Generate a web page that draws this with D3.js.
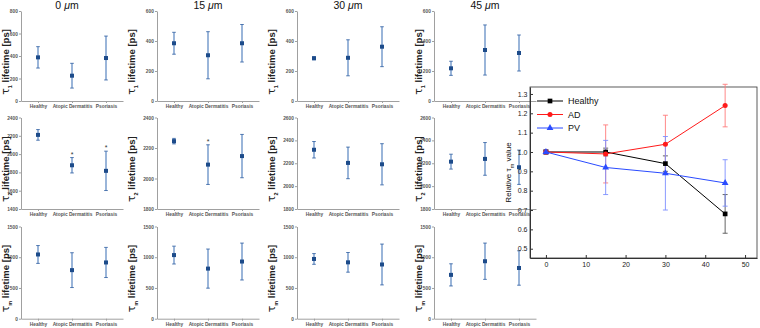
<!DOCTYPE html>
<html>
<head>
<meta charset="utf-8">
<title>Lifetime panels</title>
<script src="https://d3js.org/d3.v7.min.js"></script>
<style>
body { margin: 0; background: #fff; }
svg { display: block; font-family: "Liberation Sans Narrow", "Liberation Sans", Arial, sans-serif; }
.tiny .tick text { font-size: 4.8px; font-weight: bold; fill: #555; }
.tiny path, .tiny line { stroke: #a0a0a0; }
.rel .tick text { font-family: "Liberation Sans", Arial, sans-serif; font-size: 7px; fill: #222; }
.rel path, .rel line { stroke: #333; }
</style>
</head>
<body>
<div id="chart"></div>
<script>
var width = 760, height = 328;

var depths = ["0", "15", "30", "45"];
var groups = ["Healthy", "Atopic Dermatitis", "Psoriasis"];

// tau1 lifetime [ps], one row per depth: Healthy, AD, Psoriasis
var tau1Mean = [[388, 225, 382], [385, 305, 385], [285, 288, 362], [218, 340, 320]];
var tau1Err  = [[95, 110, 195], [73, 157, 125], [10, 120, 133], [47, 167, 120]];
var tau1Max  = [800, 600, 600, 600];

// tau2 lifetime [ps]
var tau2Mean = [[2210, 1878, 1817], [2245, 2091, 2147], [2318, 2203, 2191], [2214, 2238, 2165]];
var tau2Err  = [[58, 84, 215], [18, 130, 142], [72, 138, 180], [65, 143, 150]];
var tau2Min  = [1400, 1800, 1800, 1800];
var tau2Max  = [2400, 2400, 2600, 2600];
var tau2Star = [[0, 1, 1], [0, 1, 0], [0, 0, 0], [0, 0, 0]];

// tau_m lifetime [ps]
var tauMMean = [[1045, 790, 915], [1035, 815, 930], [972, 917, 882], [713, 935, 825]];
var tauMErr  = [[145, 283, 245], [145, 318, 300], [87, 160, 332], [180, 295, 280]];

// relative tau_m vs depth
var relDepth      = [0, 15, 30, 45];
var relHealthy    = [1.0, 1.0, 0.94, 0.68];
var relHealthyErr = [0.01, 0.02, 0.04, 0.10];
var relAD         = [1.0, 0.99, 1.04, 1.24];
var relADErr      = [0.01, 0.15, 0.15, 0.11];
var relPV         = [1.0, 0.92, 0.89, 0.84];
var relPVErr      = [0.01, 0.14, 0.19, 0.12];
var relXTicks = [0, 10, 20, 30, 40, 50];
var relYTicks = [0.5, 0.6, 0.7, 0.8, 0.9, 1.0, 1.1, 1.2, 1.3];

var svg = d3.select("#chart").append("svg")
    .attr("width", width)
    .attr("height", height);

var colX = [21, 157, 297, 434];
var labelX = [6, 132, 272, 419];
var rowTop = [11, 117.5, 226.5];
var rowBottom = [101, 209, 318.7];

var rows = [
  { sub: "1", mean: tau1Mean, err: tau1Err, lo: function(c) { return 0; }, hi: function(c) { return tau1Max[c]; }, step: 200 },
  { sub: "2", mean: tau2Mean, err: tau2Err, lo: function(c) { return tau2Min[c]; }, hi: function(c) { return tau2Max[c]; }, step: 200, star: tau2Star },
  { sub: "m", mean: tauMMean, err: tauMErr, lo: function(c) { return 0; }, hi: function(c) { return 1500; }, step: 500 }
];

rows.forEach(function(row, r) {
  depths.forEach(function(depth, c) {
    var x = d3.scalePoint().domain(groups).range([colX[c], colX[c] + 102]).padding(0.5);
    var y = d3.scaleLinear().domain([row.lo(c), row.hi(c)]).range([rowBottom[r], rowTop[r]]);
    var g = svg.append("g");

    g.append("g").attr("class", "tiny")
        .attr("transform", "translate(" + colX[c] + ",0)")
        .call(d3.axisLeft(y).tickValues(d3.range(row.lo(c), row.hi(c) + 1, row.step))
          .tickFormat(d3.format("d")).tickSize(2).tickPadding(1.2).tickSizeOuter(0));
    g.append("g").attr("class", "tiny")
        .attr("transform", "translate(0," + rowBottom[r] + ")")
        .call(d3.axisBottom(x).tickSize(2).tickPadding(1.5).tickSizeOuter(0));

    var data = groups.map(function(gr, i) {
      return { name: gr, m: row.mean[c][i], e: row.err[c][i], star: row.star ? row.star[c][i] : 0 };
    });

    g.selectAll(".eb").data(data).enter().append("line")
        .attr("x1", d => x(d.name)).attr("x2", d => x(d.name))
        .attr("y1", d => y(d.m - d.e)).attr("y2", d => y(d.m + d.e))
        .attr("stroke", "#6f96c9").attr("stroke-width", 1.4);
    [-1, 1].forEach(function(s) {
      g.selectAll(".cap").data(data).enter().append("line")
          .attr("x1", d => x(d.name) - 1.8).attr("x2", d => x(d.name) + 1.8)
          .attr("y1", d => y(d.m + s * d.e)).attr("y2", d => y(d.m + s * d.e))
          .attr("stroke", "#3d6aa8").attr("stroke-width", 0.9);
    });
    g.selectAll(".pt").data(data).enter().append("rect")
        .attr("x", d => x(d.name) - 2).attr("y", d => y(d.m) - 2)
        .attr("width", 4).attr("height", 4)
        .attr("fill", "#1d4b8a");
    g.selectAll(".star").data(data.filter(d => d.star)).enter().append("text")
        .attr("x", d => x(d.name)).attr("y", d => y(d.m + d.e) - 1)
        .attr("text-anchor", "middle")
        .style("font-size", "7px").style("fill", "#333")
        .text("*");

    var cy = (rowTop[r] + rowBottom[r]) / 2 + 6;
    var lab = g.append("text")
        .attr("transform", "translate(" + labelX[c] + "," + cy + ") rotate(-90)")
        .attr("text-anchor", "middle")
        .attr("dy", "0.35em")
        .style("font-weight", "bold").style("font-size", "9.5px").style("fill", "#222");
    lab.append("tspan").style("font-size", "11px").style("font-family", "DejaVu Sans").style("font-weight", "normal").text("τ");
    lab.append("tspan").attr("baseline-shift", "sub").style("font-size", "5.5px").text(row.sub);
    lab.append("tspan").text(" lifetime [ps]");

    if (r === 0) {
      var t = svg.append("text")
          .attr("x", x(groups[1]) - (c === 0 ? 5 : 0)).attr("y", 9)
          .attr("text-anchor", "middle")
          .style("font-family", "Liberation Sans, Arial, sans-serif")
          .style("font-size", "10.5px").style("fill", "#111");
      t.append("tspan").text(depth + " ");
      t.append("tspan").style("font-style", "italic").text("μ");
      t.append("tspan").text("m");
    }
  });
});

// relative tau_m chart
var rl = 530, rr = 757, rt = 87, rb = 258;
var rx = d3.scaleLinear().domain([-4, 53]).range([rl, rr]);
var ry = d3.scaleLinear().domain([0.452, 1.336]).range([rb, rt]);
var rg = svg.append("g");

rg.append("rect").attr("x", rl).attr("y", rt).attr("width", rr - rl).attr("height", rb - rt)
    .attr("fill", "none").attr("stroke", "#333").attr("stroke-width", 0.8);
rg.append("g").attr("class", "rel")
    .attr("transform", "translate(0," + rb + ")")
    .call(d3.axisBottom(rx).tickValues(relXTicks).tickSize(-3).tickPadding(4).tickSizeOuter(0));
rg.append("g").attr("class", "rel")
    .attr("transform", "translate(" + rl + ",0)")
    .call(d3.axisLeft(ry).tickValues(relYTicks).tickFormat(d3.format(".1f")).tickSize(-3).tickPadding(2.5).tickSizeOuter(0));

var yt = rg.append("text")
    .attr("transform", "translate(511," + ((rt + rb) / 2) + ") rotate(-90)")
    .attr("text-anchor", "middle")
    .style("font-family", "Liberation Sans, Arial, sans-serif")
    .style("font-size", "8px").style("fill", "#111");
yt.append("tspan").text("Relative τ");
yt.append("tspan").attr("baseline-shift", "sub").style("font-size", "5.5px").text("m");
yt.append("tspan").text(" value");

var series = [
  { name: "Healthy", v: relHealthy, e: relHealthyErr, color: "#000000", bar: "#555555", shape: d3.symbolSquare, size: 22 },
  { name: "AD", v: relAD, e: relADErr, color: "#ff1a1a", bar: "#ff7b7b", shape: d3.symbolCircle, size: 20 },
  { name: "PV", v: relPV, e: relPVErr, color: "#2a4bff", bar: "#7d8fff", shape: d3.symbolTriangle, size: 20 }
];

var line = d3.line().x(d => rx(d[0])).y(d => ry(d[1]));

series.forEach(function(s) {
  var pts = relDepth.map((d, i) => [d, s.v[i], s.e[i]]);
  var eg = rg.append("g");
  eg.selectAll(".eb").data(pts).enter().append("line")
      .attr("x1", d => rx(d[0])).attr("x2", d => rx(d[0]))
      .attr("y1", d => ry(d[1] - d[2])).attr("y2", d => ry(d[1] + d[2]))
      .attr("stroke", s.bar).attr("stroke-width", 0.9);
  [-1, 1].forEach(function(k) {
    eg.selectAll(".cap").data(pts).enter().append("line")
        .attr("x1", d => rx(d[0]) - 2.5).attr("x2", d => rx(d[0]) + 2.5)
        .attr("y1", d => ry(d[1] + k * d[2])).attr("y2", d => ry(d[1] + k * d[2]))
        .attr("stroke", s.bar).attr("stroke-width", 0.9);
  });
});

series.forEach(function(s) {
  var pts = relDepth.map((d, i) => [d, s.v[i]]);
  rg.append("path").datum(pts)
      .attr("d", line).attr("fill", "none")
      .attr("stroke", s.color).attr("stroke-width", 1);
  rg.selectAll(null).data(pts).enter().append("path")
      .attr("d", d3.symbol().type(s.shape).size(s.size))
      .attr("transform", d => "translate(" + rx(d[0]) + "," + ry(d[1]) + ")")
      .attr("fill", s.color);
});

var leg = rg.selectAll(".leg").data(series).enter().append("g")
    .attr("transform", (d, i) => "translate(537," + (101 + i * 13.5) + ")");
leg.append("line").attr("x1", 0).attr("x2", 26).attr("stroke", d => d.color).attr("stroke-width", 1);
leg.append("path").attr("d", d => d3.symbol().type(d.shape).size(d.size)())
    .attr("transform", "translate(13,0)").attr("fill", d => d.color);
leg.append("text").attr("x", 31).attr("dy", "0.35em")
    .style("font-family", "Liberation Sans, Arial, sans-serif")
    .style("font-size", "9px").style("fill", "#111")
    .text(d => d.name);
</script>
</body>
</html>
